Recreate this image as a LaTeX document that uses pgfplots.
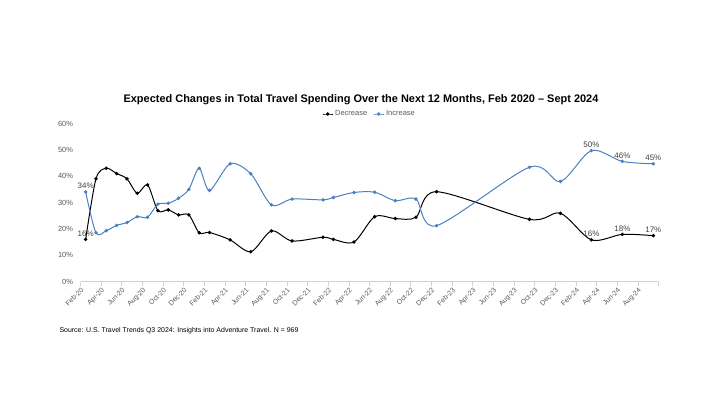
\documentclass[border=0pt]{standalone}
\usepackage{fontspec}
\setmainfont{Liberation Sans}
\usepackage{pgfplots}
\pgfplotsset{compat=1.18}
\definecolor{incblue}{RGB}{74,128,192}
\definecolor{tickgray}{RGB}{89,89,89}
\definecolor{axgray}{RGB}{210,210,210}
\definecolor{lblgray}{RGB}{64,64,64}

\begin{document}
\begin{tikzpicture}
\begin{axis}[
  name=ax,
  scale only axis, width=578bp, height=158bp,
  xmin=-0.5, xmax=55.5, ymin=0, ymax=60,
  axis lines*=left,
  y axis line style={draw=none},
  x axis line style={draw=axgray, line width=0.6pt},
  ytick={0,10,20,30,40,50,60},
  yticklabels={0\%,10\%,20\%,30\%,40\%,50\%,60\%},
  ytick style={draw=none},
  xtick={-0.5,1.5,3.5,5.5,7.5,9.5,11.5,13.5,15.5,17.5,19.5,21.5,23.5,25.5,27.5,29.5,31.5,33.5,35.5,37.5,39.5,41.5,43.5,45.5,47.5,49.5,51.5,53.5,55.5},
  xticklabels={Feb-20,Apr-20,Jun-20,Aug-20,Oct-20,Dec-20,Feb-21,Apr-21,Jun-21,Aug-21,Oct-21,Dec-21,Feb-22,Apr-22,Jun-22,Aug-22,Oct-22,Dec-22,Feb-23,Apr-23,Jun-23,Aug-23,Oct-23,Dec-23,Feb-24,Apr-24,Jun-24,Aug-24,{}},
  xtick style={draw=axgray, line width=0.6pt},
  tick align=outside, major tick length=4bp,
  x tick label style={rotate=45, anchor=north east, font=\fontsize{7}{8}\selectfont, text=tickgray, inner sep=1pt},
  y tick label style={font=\fontsize{7.5}{8}\selectfont, text=tickgray},
  /pgf/number format/assume math mode=true,
  clip=false,
  legend style={at={(0.5,1)}, anchor=south, yshift=2bp, draw=none, fill=none, font=\fontsize{7.5}{8}\selectfont, text=tickgray, legend columns=2, /tikz/every even column/.append style={column sep=4bp}},
  legend image code/.code={\draw[mark repeat=2,mark phase=2,#1] plot coordinates {(0bp,0bp) (5bp,0bp) (10bp,0bp)};},
]
\addplot[black, line width=1pt, smooth, tension=0.5, mark=*, mark size=1.2bp, mark options={solid}] coordinates {
(0,16) (1,39) (2,43) (3,41) (4,39) (5,33.5) (6,36.7) (7,26.9) (8,27.2) (9,25.3) (10,25.3) (11,18.5) (12,18.6) (14,15.8) (16,11.3) (18,19.2) (20,15.4) (23,16.8) (24,16.0) (26,15.0) (28,24.6) (30,23.9) (32,24.4) (34,34.1) (43,23.6) (46,25.9) (49,15.8) (52,17.9) (55,17.4)
};
\addlegendentry{Decrease}
\addplot[incblue, line width=1pt, smooth, tension=0.5, mark=*, mark size=1.2bp, mark options={solid}] coordinates {
(0,34) (1,18.5) (2,19.3) (3,21.3) (4,22.4) (5,24.6) (6,24.4) (7,29.4) (8,29.7) (9,31.6) (10,35.0) (11,43.0) (12,34.6) (14,44.7) (16,40.9) (18,29.1) (20,31.3) (23,31.0) (24,31.9) (26,33.8) (28,33.9) (30,30.7) (32,31.3) (34,21.2) (43,43.4) (46,38.0) (49,49.7) (52,45.6) (55,44.7)
};
\addlegendentry{Increase}
\begin{scope}[every node/.style={font=\fontsize{8}{9}\selectfont, text=lblgray, anchor=south, inner sep=1pt}]
\node at (axis cs:0,34) [yshift=2bp] {34\%};
\node at (axis cs:0,16) [yshift=2bp] {16\%};
\node at (axis cs:49,49.7) [yshift=2bp] {50\%};
\node at (axis cs:52,45.6) [yshift=2bp] {46\%};
\node at (axis cs:55,44.7) [yshift=2bp] {45\%};
\node at (axis cs:49,15.8) [yshift=2bp] {16\%};
\node at (axis cs:52,17.9) [yshift=2bp] {18\%};
\node at (axis cs:55,17.4) [yshift=2bp] {17\%};
\end{scope}
\end{axis}
\useasboundingbox ([shift={(-80.5bp,-123.5bp)}]ax.south west) rectangle ([shift={(639.5bp,281.5bp)}]ax.south west);
\node[font=\bfseries\fontsize{11}{13}\selectfont] at ([shift={(280.5bp,181.5bp)}]ax.south west) {Expected Changes in Total Travel Spending Over the Next 12 Months, Feb 2020 – Sept 2024};
\node[anchor=west, font=\fontsize{7}{8}\selectfont, text=black] at ([shift={(-24.5bp,-49.5bp)}]ax.south west) {Source: U.S. Travel Trends Q3 2024: Insights into Adventure Travel. N = 969};
\end{tikzpicture}
\end{document}
